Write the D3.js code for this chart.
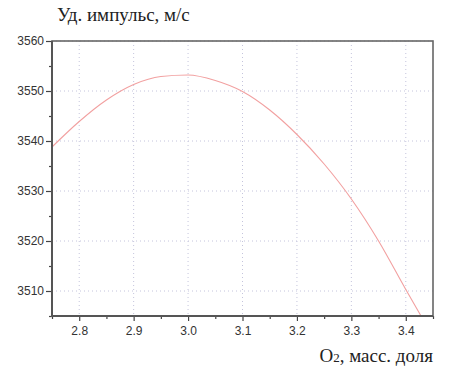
<!doctype html>
<html>
<head>
<meta charset="utf-8">
<script src="https://d3js.org/d3.v7.min.js"></script>
<style>
  body { margin: 0; background: #fff; }
  .tick text { font-family: "Liberation Sans", Arial, sans-serif; font-size: 12px; fill: #333; }
  .grid line { stroke: #c4c4dc; stroke-dasharray: 1,3; }
  .curve { fill: none; stroke: #f2a0a0; stroke-width: 1.1px; }
  .ttl { font-family: "Liberation Serif", "DejaVu Serif", "Times New Roman", serif; font-size: 19px; fill: #222; }
</style>
</head>
<body>
<div id="chart"></div>
<script>
// O2 mass fraction vs specific impulse
var oxFrac  = [2.75, 2.80, 2.85, 2.90, 2.95, 3.00, 3.05, 3.10, 3.15, 3.20, 3.25, 3.30, 3.35, 3.40, 3.428];
var impulse = [3538.8, 3543.9, 3548.2, 3551.3, 3552.9, 3553.2, 3552.1, 3549.9, 3546.2, 3541.3, 3535.4, 3528.4, 3520.0, 3510.3, 3505.0];

var xTicks = [2.8, 2.9, 3.0, 3.1, 3.2, 3.3, 3.4];
var xMinor = [2.75, 2.85, 2.95, 3.05, 3.15, 3.25, 3.35, 3.45];
var yTicks = [3510, 3520, 3530, 3540, 3550, 3560];
var yMinor = [3505, 3515, 3525, 3535, 3545, 3555];

var W = 450, H = 376;
var margin = {top: 41, right: 17, bottom: 60, left: 52};
var width = W - margin.left - margin.right,
    height = H - margin.top - margin.bottom;

var svg = d3.select("#chart").append("svg")
    .attr("width", W)
    .attr("height", H);

var g = svg.append("g")
    .attr("transform", "translate(" + margin.left + "," + margin.top + ")");

var x = d3.scaleLinear().domain([2.75, 3.45]).range([0, width]);
var y = d3.scaleLinear().domain([3505, 3560]).range([height, 0]);

// grid
g.append("g").attr("class", "grid")
  .selectAll("line").data(xTicks).enter().append("line")
    .attr("x1", d => x(d)).attr("x2", d => x(d))
    .attr("y1", 0).attr("y2", height);
g.append("g").attr("class", "grid")
  .selectAll("line").data(yTicks).enter().append("line")
    .attr("x1", 0).attr("x2", width)
    .attr("y1", d => y(d)).attr("y2", d => y(d));

// the curve
var line = d3.line()
    .x((d, i) => x(oxFrac[i]))
    .y(d => y(d))
    .curve(d3.curveMonotoneX);

g.append("path")
    .datum(impulse)
    .attr("class", "curve")
    .attr("d", line);

// minor ticks
var xm = g.append("g")
    .attr("transform", "translate(0," + height + ")")
    .call(d3.axisBottom(x).tickValues(xMinor).tickSize(3).tickFormat(""));
var ym = g.append("g")
    .call(d3.axisLeft(y).tickValues(yMinor).tickSize(3).tickFormat(""));

// major axes
var xa = g.append("g")
    .attr("transform", "translate(0," + height + ")")
    .call(d3.axisBottom(x).tickValues(xTicks).tickSize(5).tickPadding(5).tickFormat(d3.format(".1f")));
var ya = g.append("g")
    .call(d3.axisLeft(y).tickValues(yTicks).tickSize(6).tickPadding(2).tickFormat(d3.format("d")));

[xm, ym, xa, ya].forEach(function(a) {
  a.select(".domain").remove();
  a.selectAll(".tick line").attr("stroke", "#444").attr("stroke-width", 1.2);
});

// frame
g.append("rect")
    .attr("x", 0).attr("y", 0)
    .attr("width", width).attr("height", height)
    .attr("fill", "none")
    .attr("stroke", "#666")
    .attr("stroke-width", 1.6);
g.append("line").attr("x1", 0).attr("x2", 0).attr("y1", 0).attr("y2", height)
    .attr("stroke", "#555").attr("stroke-width", 2);
g.append("line").attr("x1", 0).attr("x2", width).attr("y1", height).attr("y2", height)
    .attr("stroke", "#555").attr("stroke-width", 2);

// titles
svg.append("text")
    .attr("class", "ttl")
    .attr("x", 57).attr("y", 21)
    .text("Уд. импульс, м/с");

var xl = svg.append("text")
    .attr("class", "ttl")
    .attr("x", 433).attr("y", 362)
    .attr("text-anchor", "end");
xl.append("tspan").text("O");
xl.append("tspan").attr("font-size", "13px").text("2");
xl.append("tspan").text(", масс. доля");
</script>
</body>
</html>
